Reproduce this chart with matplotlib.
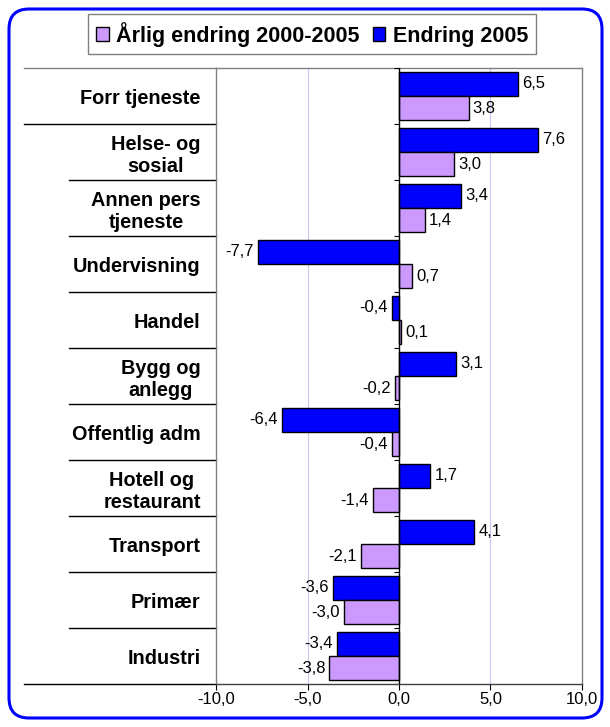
import matplotlib
matplotlib.use("Agg")
import matplotlib.pyplot as plt
from matplotlib.patches import FancyBboxPatch, Patch
from matplotlib.transforms import IdentityTransform, blended_transform_factory
from matplotlib.ticker import FuncFormatter

plt.rcParams['font.family'] = ['Liberation Sans', 'DejaVu Sans']

# data, top to bottom
categories = ["Forr tjeneste", "Helse- og\nsosial", "Annen pers\ntjeneste",
              "Undervisning", "Handel", "Bygg og\nanlegg", "Offentlig adm",
              "Hotell og\nrestaurant", "Transport", "Primær", "Industri"]
endring_2005 = [6.5, 7.6, 3.4, -7.7, -0.4, 3.1, -6.4, 1.7, 4.1, -3.6, -3.4]
aarlig_endring = [3.8, 3.0, 1.4, 0.7, 0.1, -0.2, -0.4, -1.4, -2.1, -3.0, -3.8]
x_ticks = [-10, -5, 0, 5, 10]

blue = "#0000FF"
violet = "#CC99FF"

fig = plt.figure(figsize=(6.1, 7.27), dpi=100)
ax = fig.add_axes([216/610, 1 - 684/727, 366/610, 616/727])

n = len(categories)
pos = list(range(n))
h = 0.43
b1 = ax.barh([p - h/2 for p in pos], endring_2005, height=h, color=blue,
             edgecolor="black", linewidth=1, zorder=3)
b2 = ax.barh([p + h/2 for p in pos], aarlig_endring, height=h, color=violet,
             edgecolor="black", linewidth=1, zorder=3)

fmt = lambda v: f"{v:.1f}".replace(".", ",")
ax.bar_label(b1, labels=[fmt(v) for v in endring_2005], padding=3, fontsize=12)
ax.bar_label(b2, labels=[fmt(v) for v in aarlig_endring], padding=3, fontsize=12)

ax.set_xlim(-10, 10)
ax.set_ylim(n - 0.5, -0.5)

# gridlines and zero axis
for t in x_ticks[1:-1]:
    if t != 0:
        ax.axvline(t, color="#c8c8f8", linewidth=0.8, zorder=1)
ax.axvline(0, color="black", linewidth=1, zorder=4)
for i in range(n + 1):
    ax.plot([-0.3, 0], [i - 0.5, i - 0.5], color="black", linewidth=0.8,
            zorder=4, solid_capstyle="butt")

ax.set_xticks(x_ticks)
ax.xaxis.set_major_formatter(FuncFormatter(lambda v, p: fmt(v)))
ax.tick_params(axis="x", labelsize=12, length=4, width=0.8, pad=2)
ax.set_yticks(pos)
ax.set_yticklabels(categories, fontsize=14.3, fontweight="bold", ma="center")
ax.tick_params(axis="y", length=0, pad=11)

for s in ["top", "left", "right"]:
    ax.spines[s].set_color("#808080")
    ax.spines[s].set_linewidth(1)
ax.spines["bottom"].set_color("#404040")
ax.spines["bottom"].set_linewidth(1)

# separator lines in the label area
tr = blended_transform_factory(ax.transAxes, ax.transData)
for i in range(n + 1):
    start = -0.525 if i in (0, 1, n) else -0.402
    ax.plot([start, 0], [i - 0.5, i - 0.5], color="black" if i else "#808080",
            linewidth=1, transform=tr, clip_on=False)

handles = [Patch(facecolor=violet, edgecolor="black", linewidth=1),
           Patch(facecolor=blue, edgecolor="black", linewidth=1)]
leg = fig.legend(handles, ["Årlig endring 2000-2005", "Endring 2005"],
                 loc="upper center", bbox_to_anchor=(312/610, 1 - 14/727), ncol=2,
                 prop={"weight": "bold", "size": 15.5}, frameon=True, fancybox=False,
                 handlelength=0.6, handleheight=0.6, handletextpad=0.35,
                 columnspacing=0.6, borderpad=0.35, borderaxespad=0)
leg.get_frame().set_edgecolor("#606060")
leg.get_frame().set_linewidth(1)

border = FancyBboxPatch((9, 9), 593, 709, boxstyle="round,pad=0,rounding_size=20",
                        transform=IdentityTransform(), facecolor="none",
                        edgecolor=blue, linewidth=2.2)
fig.patches.append(border)

fig.savefig("out.png", dpi=100)
